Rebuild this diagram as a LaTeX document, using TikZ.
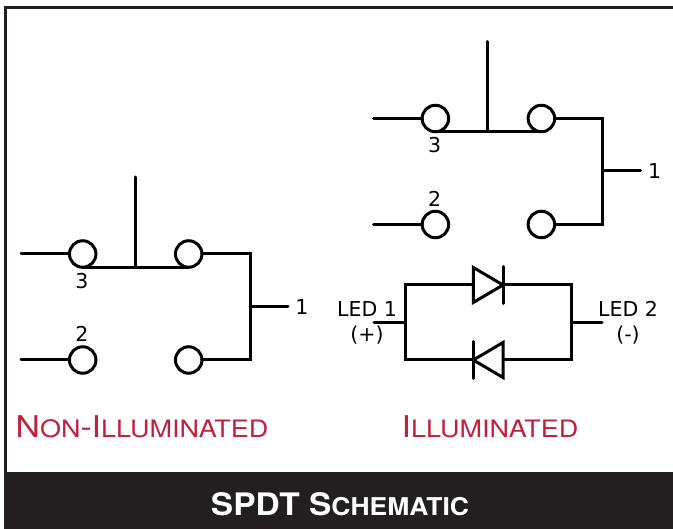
\documentclass[tikz,border=0pt]{standalone}
\usepackage{fontspec}
\setmainfont{DejaVu Sans}
\newfontfamily\headfont[FakeStretch=1.125]{TeX Gyre Heros}
\newfontfamily\bandfont[FakeStretch=1.08]{TeX Gyre Heros}
\definecolor{band-black}{HTML}{231F20}
\definecolor{title-red}{HTML}{C0213F}
\tikzstyle{wire}=[line width=3pt,line cap=round,line join=miter]
\tikzstyle{contact}=[circle,draw,line width=3pt,minimum size=26.5pt,inner sep=0pt,outer sep=0pt,fill=white]
\tikzstyle{pinlabel}=[inner sep=0pt,font=\fontsize{20.5}{24}\selectfont]
\tikzstyle{titlelabel}=[inner sep=0pt,text=title-red,font=\headfont]
% Syntax: {big letters}{small letters}
\newcommand{\capsword}[2]{{\fontsize{30}{34}\selectfont #1}{\fontsize{24}{34}\selectfont #2}}
\newcommand{\bandword}[2]{{\fontsize{31}{36}\selectfont #1}{\fontsize{24.5}{36}\selectfont #2}}
% Syntax: {name prefix}{x}{y}
\newcommand{\drawswitch}[3]{
	\begin{scope}[shift={(#2,#3)},name prefix=#1-]
		% contacts
		\node[contact] (c3) at (82.7,254) {};
		\node[contact] (c4) at (188.7,254) {};
		\node[contact] (c2) at (82.7,360) {};
		\node[contact] (c5) at (188.7,360) {};
		% free ends and corners
		\coordinate (lead3) at (21,254);
		\coordinate (lead2) at (21,360);
		\coordinate (stem) at (135,177);
		\coordinate (tap) at (250,306.5);
		\coordinate (pin) at (288,306.5);
		\draw[wire] (lead3) -- (c3);
		\draw[wire] (lead2) -- (c2);
		\draw[wire] (c3.south) -- (c4.south);
		\draw[wire] (stem) -- (stem |- c3.south);
		\draw[wire] (c4) -- (tap |- c4) -- (tap |- c5) -- (c5);
		\draw[wire] (tap) -- (pin);
		% labels
		\node[pinlabel] (n3) at (82,281) {3};
		\node[pinlabel] (n2) at (82,334) {2};
		\node[pinlabel] (n1) at (302,307) {1};
	\end{scope}
}
% Syntax: {x of base}{x of tip}{y}
\newcommand{\drawdiode}[3]{
	\draw[wire,line join=miter,fill=white] (#1,#3-17.5) -- (#2,#3) -- (#1,#3+17.5) -- cycle;
	\draw[wire] (#2,#3-18.5) -- (#2,#3+18.5);
}
\begin{document}
\begin{tikzpicture}[x=1pt,y=-1pt]
	\useasboundingbox (0,0) rectangle (673,529);
	% frame and band
	\draw[band-black,line width=3pt] (673,8) -- (5,8) -- (5,473);
	\fill[band-black] (3.7,472) rectangle (673,529);
	% the two switches
	\drawswitch{off}{0}{0}
	\drawswitch{on}{352.7}{-135.5}
	% led pair
	\coordinate (topleft) at (405.3,285);
	\coordinate (topright) at (571.7,285);
	\coordinate (botleft) at (405.3,360);
	\coordinate (botright) at (571.7,360);
	\coordinate (ledone) at (374,322.3);
	\coordinate (ledtwo) at (602,322.3);
	\draw[wire] (topright) -- (topleft) -- (botleft) -- (botright) -- cycle;
	\draw[wire] (ledone) -- (ledone -| topleft);
	\draw[wire] (ledtwo) -- (ledtwo -| topright);
	\drawdiode{473.3}{503}{285}
	\drawdiode{503}{473.3}{360}
	\node[pinlabel] (ledonetext) at (367,309) {LED 1};
	\node[pinlabel] (plustext) at (367,335) {(+)};
	\node[pinlabel] (ledtwotext) at (628,309) {LED 2};
	\node[pinlabel] (minustext) at (628,335) {(-)};
	% titles
	\node[titlelabel] (offtitle) at (142,427) {\capsword{N}{ON}\capsword{-I}{LLUMINATED}};
	\node[titlelabel] (ontitle) at (490,427) {\capsword{I}{LLUMINATED}};
	\node[inner sep=0pt,text=white,font=\bandfont\bfseries] (bandtitle) at (340,504) {\bandword{SPDT S}{CHEMATIC}};
\end{tikzpicture}
\end{document}
